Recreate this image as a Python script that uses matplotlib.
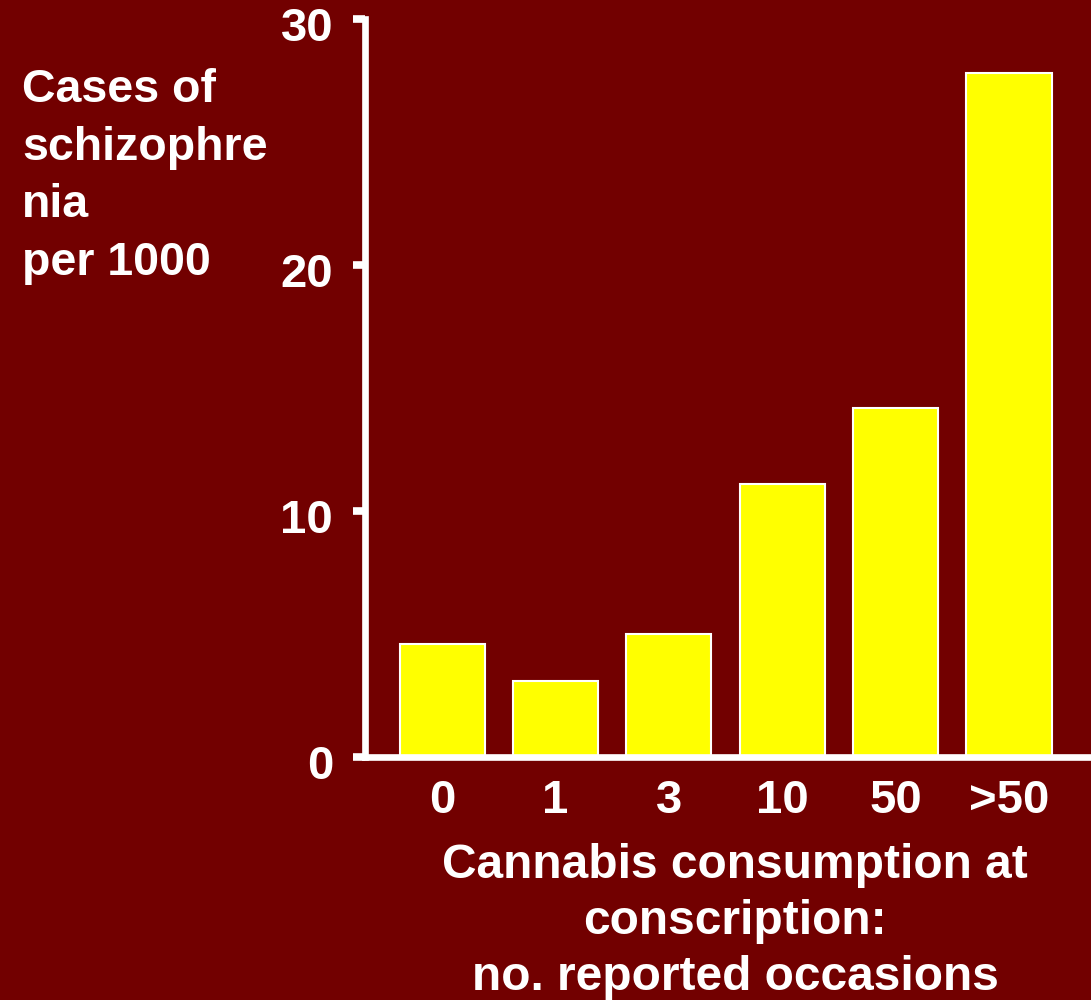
import matplotlib
matplotlib.use("Agg")
import matplotlib.pyplot as plt
from matplotlib.transforms import ScaledTranslation

# Cases of schizophrenia per 1000 by cannabis use at conscription
categories = ["0", "1", "3", "10", "50", ">50"]
cases_per_1000 = [4.6, 3.1, 5.0, 11.1, 14.2, 27.8]
y_ticks = [0, 10, 20, 30]

BG = "#720000"
BAR = "#FFFF00"
FG = "white"

plt.rcParams["font.family"] = ["Liberation Sans", "DejaVu Sans"]
plt.rcParams["font.weight"] = "bold"

fig = plt.figure(figsize=(10.91, 10.0), dpi=100, facecolor=BG)
ax = fig.add_axes([0.3346, 0.243, 1.0 - 0.3346, 0.738])
ax.set_facecolor(BG)

x = list(range(len(categories)))
ax.bar(x, cases_per_1000, width=0.75, color=BAR, edgecolor=FG, linewidth=1.5)

ax.set_xlim(-0.679, 5.723)
ax.set_ylim(0, 30)

for side in ("top", "right"):
    ax.spines[side].set_visible(False)
for side in ("left", "bottom"):
    ax.spines[side].set_color(FG)
    ax.spines[side].set_linewidth(4.8)

ax.set_yticks(y_ticks)
ax.set_yticklabels([str(v) for v in y_ticks], fontsize=34, fontweight="bold", color=FG)
ax.tick_params(axis="y", direction="out", length=9, width=5.5, color=FG, pad=14)
# nudge the value labels slightly below their ticks
shift = ScaledTranslation(0, -5 / 100, fig.dpi_scale_trans)
for lbl in ax.get_yticklabels():
    lbl.set_transform(lbl.get_transform() + shift)

ax.set_xticks(x)
ax.set_xticklabels(categories, fontsize=34, fontweight="bold", color=FG)
ax.tick_params(axis="x", length=0, pad=16)

fig.text(22 / 1091, 1 - 68 / 1000, "Cases of\nschizophre\nnia\nper 1000",
         ha="left", va="top", fontsize=33.5, fontweight="bold", color=FG,
         linespacing=1.40)

fig.text(735 / 1091, 1 - 843 / 1000,
         "Cannabis consumption at\nconscription:\nno. reported occasions",
         ha="center", va="top", multialignment="center", fontsize=34.5,
         fontweight="bold", color=FG, linespacing=1.32)

fig.savefig("out.png", dpi=100, facecolor=BG)
